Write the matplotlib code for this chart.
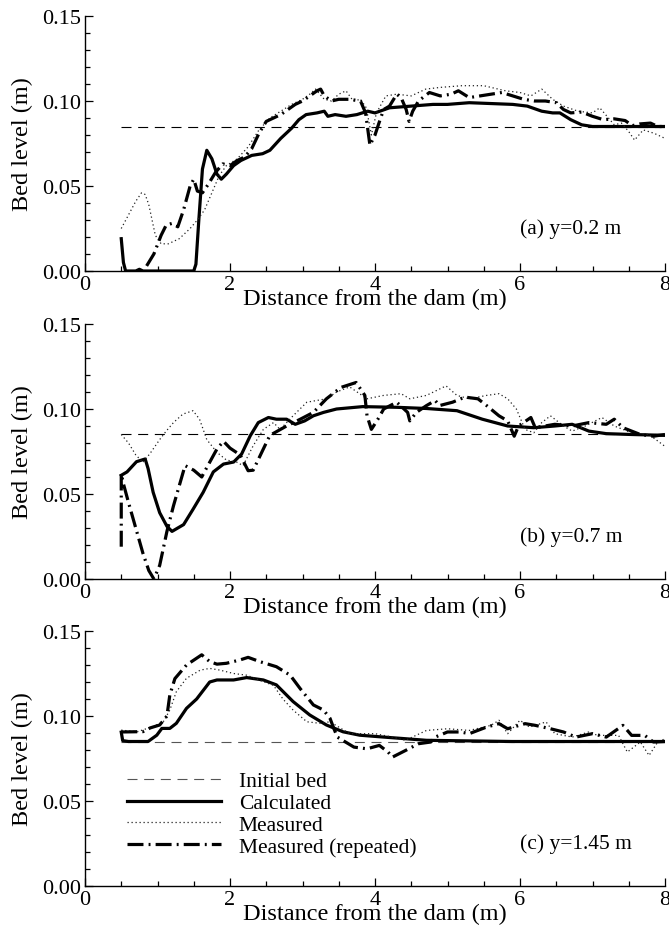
import matplotlib
matplotlib.use("Agg")
import matplotlib.pyplot as plt
from matplotlib.ticker import MultipleLocator, FormatStrFormatter

plt.rcParams['font.family'] = ['Liberation Serif', 'DejaVu Serif']
plt.rcParams['mathtext.fontset'] = 'stix'

# ---------------- data ----------------
initial_x = [0.5, 8.0]
initial_y = [0.085, 0.085]

# Panel (a) y = 0.2 m
calc_a_x = [0.5, 0.53, 0.56, 0.7, 0.75, 0.8, 1.0, 1.4, 1.5, 1.53, 1.57, 1.62, 1.68, 1.75, 1.82, 1.88,
            1.95, 2.05, 2.15, 2.3, 2.45, 2.55, 2.7, 2.85, 2.95, 3.05, 3.2, 3.3, 3.35, 3.45, 3.6, 3.75,
            3.9, 4.0, 4.2, 4.5, 4.8, 5.0, 5.3, 5.6, 5.9, 6.1, 6.3, 6.45, 6.55, 6.7, 6.85, 7.0, 7.3, 7.6, 8.0]
calc_a_y = [0.019, 0.005, 0.0, 0.0, 0.001, 0.0, 0.0, 0.0, 0.0, 0.004, 0.030, 0.060, 0.071, 0.066, 0.057, 0.054,
            0.057, 0.062, 0.065, 0.068, 0.069, 0.071, 0.078, 0.084, 0.089, 0.092, 0.093, 0.094, 0.091, 0.092, 0.091, 0.092,
            0.094, 0.093, 0.096, 0.097, 0.098, 0.098, 0.099, 0.0985, 0.098, 0.097, 0.094, 0.093, 0.093, 0.089, 0.086, 0.085, 0.085, 0.085, 0.085]
meas_a_x = [0.5, 0.6, 0.7, 0.78, 0.83, 0.88, 0.92, 0.97, 1.05, 1.15, 1.3, 1.45, 1.55, 1.65, 1.75, 1.85, 1.95,
            2.1, 2.25, 2.4, 2.55, 2.7, 2.85, 3.0, 3.1, 3.18, 3.3, 3.4, 3.5, 3.6, 3.7, 3.8, 3.88, 3.95, 4.02,
            4.15, 4.3, 4.5, 4.7, 4.9, 5.2, 5.5, 5.8, 6.0, 6.15, 6.3, 6.45, 6.6, 6.8, 7.0, 7.1, 7.2, 7.3, 7.4,
            7.5, 7.58, 7.7, 7.85, 8.0]
meas_a_y = [0.025, 0.033, 0.041, 0.046, 0.045, 0.039, 0.031, 0.021, 0.016, 0.016, 0.019, 0.025, 0.030, 0.036, 0.046, 0.056, 0.062,
            0.066, 0.073, 0.083, 0.090, 0.094, 0.098, 0.101, 0.104, 0.107, 0.101, 0.100, 0.104, 0.106, 0.100, 0.101, 0.096, 0.080, 0.093,
            0.103, 0.104, 0.103, 0.107, 0.108, 0.109, 0.109, 0.106, 0.105, 0.103, 0.107, 0.101, 0.097, 0.094, 0.093, 0.096, 0.091, 0.086, 0.087,
            0.082, 0.077, 0.083, 0.081, 0.078]
rep_a_x = [0.85, 0.95, 1.05, 1.12, 1.2, 1.28, 1.36, 1.45, 1.5, 1.55, 1.62, 1.7, 1.8, 1.9, 2.0, 2.1, 2.2, 2.3, 2.4, 2.5,
           2.6, 2.7, 2.8, 2.9, 3.0, 3.1, 3.2, 3.25, 3.3, 3.4, 3.5, 3.65, 3.8, 3.87, 3.93, 4.0, 4.07, 4.12, 4.2, 4.3,
           4.36, 4.43, 4.47, 4.52, 4.6, 4.75, 4.9, 5.05, 5.15, 5.3, 5.45, 5.6, 5.75, 5.9, 6.05, 6.2, 6.35, 6.5, 6.6,
           6.7, 6.85, 7.0, 7.15, 7.3, 7.45, 7.55, 7.65, 7.8, 7.9, 8.0]
rep_a_y = [0.003, 0.010, 0.021, 0.027, 0.028, 0.026, 0.036, 0.050, 0.054, 0.047, 0.046, 0.051, 0.058, 0.063, 0.062, 0.065, 0.067, 0.072, 0.081, 0.088,
           0.090, 0.092, 0.095, 0.098, 0.100, 0.103, 0.106, 0.107, 0.103, 0.100, 0.101, 0.101, 0.100, 0.093, 0.074, 0.080, 0.089, 0.095, 0.097, 0.104,
           0.102, 0.095, 0.088, 0.094, 0.100, 0.105, 0.103, 0.104, 0.106, 0.102, 0.103, 0.104, 0.105, 0.103, 0.101, 0.100, 0.100, 0.099, 0.095,
           0.093, 0.0935, 0.091, 0.089, 0.0895, 0.0885, 0.0855, 0.0865, 0.087, 0.085, 0.085]

# Panel (b) y = 0.7 m
calc_b_x = [0.5, 0.58, 0.71, 0.83, 0.87, 0.94, 1.03, 1.13, 1.2, 1.36, 1.49, 1.63, 1.77, 1.91, 2.05, 2.16, 2.28, 2.39,
            2.53, 2.64, 2.78, 2.9, 3.03, 3.15, 3.29, 3.47, 3.83, 4.3, 4.71, 5.13, 5.48, 5.83, 6.19, 6.48, 6.72, 6.95,
            7.19, 7.54, 8.0]
calc_b_y = [0.061, 0.063, 0.069, 0.0706, 0.065, 0.051, 0.039, 0.031, 0.028, 0.032, 0.041, 0.051, 0.063, 0.0676, 0.0688, 0.0735, 0.0843, 0.092,
            0.095, 0.094, 0.094, 0.091, 0.093, 0.096, 0.098, 0.100, 0.1014, 0.101, 0.1003, 0.099, 0.094, 0.090, 0.089, 0.090, 0.091, 0.087,
            0.0855, 0.085, 0.0845]
meas_b_x = [0.5, 0.6, 0.7, 0.8, 0.9, 1.03, 1.12, 1.22, 1.35, 1.49, 1.58, 1.68, 1.82, 1.95, 2.09, 2.18, 2.32, 2.46, 2.6,
            2.69, 2.87, 3.06, 3.33, 3.47, 3.65, 3.89, 4.12, 4.36, 4.48, 4.71, 4.98, 5.13, 5.3, 5.54, 5.71, 5.83,
            5.95, 6.07, 6.19, 6.3, 6.42, 6.6, 6.72, 6.9, 7.13, 7.3, 7.54, 7.78, 8.0]
meas_b_y = [0.085, 0.080, 0.073, 0.0686, 0.074, 0.082, 0.087, 0.092, 0.097, 0.099, 0.094, 0.082, 0.0745, 0.070, 0.0688, 0.0667, 0.0784, 0.088, 0.092,
            0.088, 0.096, 0.104, 0.106, 0.110, 0.113, 0.106, 0.108, 0.109, 0.106, 0.108, 0.1136, 0.108, 0.106, 0.108, 0.109, 0.106,
            0.100, 0.088, 0.086, 0.092, 0.096, 0.090, 0.087, 0.090, 0.095, 0.090, 0.086, 0.085, 0.078]
rep_b_x = [0.5, 0.5, 0.53, 0.6, 0.7, 0.8, 0.88, 0.95, 1.03, 1.13, 1.22, 1.38, 1.5, 1.61, 1.66, 1.82, 1.91, 2.0, 2.14,
           2.25, 2.32, 2.46, 2.55, 2.78, 2.97, 3.15, 3.33, 3.53, 3.74, 3.86, 3.89, 3.95, 4.04, 4.12, 4.3, 4.45, 4.48,
           4.57, 4.71, 4.83, 4.89, 5.07, 5.24, 5.42, 5.54, 5.71, 5.83, 5.92, 5.98, 6.15, 6.21, 6.48, 6.72, 6.95, 7.19,
           7.3, 7.42, 7.66, 7.84, 8.0]
rep_b_y = [0.019, 0.062, 0.056, 0.045, 0.030, 0.015, 0.005, 0.0, 0.008, 0.028, 0.043, 0.0667, 0.064, 0.060, 0.064, 0.0765, 0.081, 0.077, 0.073,
           0.0637, 0.064, 0.0765, 0.0845, 0.090, 0.094, 0.098, 0.106, 0.1127, 0.1156, 0.108, 0.096, 0.088, 0.094, 0.100, 0.104, 0.098, 0.093,
           0.098, 0.102, 0.105, 0.102, 0.104, 0.107, 0.106, 0.102, 0.096, 0.093, 0.084, 0.090, 0.095, 0.089, 0.091, 0.090, 0.092, 0.091,
           0.094, 0.089, 0.085, 0.084, 0.085]

# Panel (c) y = 1.45 m
calc_c_x = [0.5, 0.52, 0.6, 0.87, 0.99, 1.06, 1.17, 1.26, 1.40, 1.54, 1.72, 1.82, 2.05, 2.23, 2.46, 2.64, 2.87,
            3.10, 3.33, 3.56, 3.79, 4.12, 4.71, 5.89, 8.0]
calc_c_y = [0.0905, 0.0855, 0.085, 0.085, 0.0887, 0.0927, 0.0927, 0.0957, 0.1045, 0.110, 0.120, 0.1212, 0.1212, 0.1226, 0.1212, 0.1183, 0.1085,
            0.1006, 0.0947, 0.0907, 0.0887, 0.0876, 0.0857, 0.085, 0.085]
meas_c_x = [0.5, 0.72, 0.95, 1.08, 1.17, 1.26, 1.40, 1.59, 1.72, 1.86, 2.05, 2.23, 2.41, 2.6, 2.73, 2.87, 3.06, 3.24,
            3.38, 3.65, 4.0, 4.24, 4.42, 4.71, 5.0, 5.3, 5.6, 5.71, 5.83, 6.0, 6.13, 6.36, 6.48, 6.72, 6.95, 7.07,
            7.36, 7.48, 7.66, 7.78, 7.9, 8.0]
meas_c_y = [0.0917, 0.0907, 0.094, 0.0966, 0.1035, 0.1143, 0.1222, 0.127, 0.128, 0.127, 0.125, 0.124, 0.121, 0.118, 0.110, 0.1035, 0.0966, 0.0957,
            0.0966, 0.0896, 0.0896, 0.0876, 0.0857, 0.0915, 0.0925, 0.0915, 0.0945, 0.0975, 0.0896, 0.0975, 0.0935, 0.0965, 0.0896, 0.0876, 0.0906, 0.0886,
            0.0886, 0.0788, 0.0847, 0.0768, 0.0847, 0.0866]
rep_c_x = [0.5, 0.8, 0.9, 1.03, 1.13, 1.17, 1.24, 1.40, 1.61, 1.72, 1.82, 1.95, 2.14, 2.25, 2.41, 2.64, 2.83, 2.97,
           3.15, 3.29, 3.38, 3.42, 3.48, 3.71, 3.89, 4.06, 4.18, 4.24, 4.42, 4.6, 4.77, 4.83, 5.0, 5.18, 5.3, 5.54,
           5.71, 5.83, 6.07, 6.21, 6.42, 6.6, 6.77, 7.0, 7.19, 7.42, 7.54, 7.72, 7.84, 8.0]
rep_c_y = [0.0906, 0.0908, 0.093, 0.0947, 0.100, 0.1124, 0.122, 0.130, 0.136, 0.132, 0.1305, 0.131, 0.133, 0.1345, 0.132, 0.129, 0.124, 0.116,
           0.1065, 0.1035, 0.0986, 0.094, 0.0876, 0.0817, 0.0807, 0.0827, 0.0788, 0.0758, 0.0797, 0.0837, 0.0847, 0.0876, 0.0906, 0.0906, 0.0896, 0.0935,
           0.0955, 0.0925, 0.0955, 0.0945, 0.0925, 0.0906, 0.0876, 0.0896, 0.0876, 0.0945, 0.0886, 0.0886, 0.0847, 0.085]

panels = [
    dict(calc=(calc_a_x, calc_a_y), meas=(meas_a_x, meas_a_y), rep=(rep_a_x, rep_a_y), label="(a) y=0.2 m"),
    dict(calc=(calc_b_x, calc_b_y), meas=(meas_b_x, meas_b_y), rep=(rep_b_x, rep_b_y), label="(b) y=0.7 m"),
    dict(calc=(calc_c_x, calc_c_y), meas=(meas_c_x, meas_c_y), rep=(rep_c_x, rep_c_y), label="(c) y=1.45 m"),
]
legend_labels = ["Initial bed", "Calculated", "Measured", "Measured (repeated)"]

# ---------------- figure ----------------
W, H = 669, 929
fig = plt.figure(figsize=(W / 100, H / 100), dpi=100)
left = 85 / W
width = 580 / W
height = 255 / H
bottoms = [1 - 272 / H, 1 - 580 / H, 1 - 887 / H]

TICK_FS = 16
TEXT_FS = 15.5
LABEL_FS = 17.5

for i, (p, b) in enumerate(zip(panels, bottoms)):
    ax = fig.add_axes([left, b, width, height])
    init_color = '#555555' if i == 2 else 'black'
    l_init, = ax.plot(initial_x, initial_y, color=init_color, lw=0.8, dashes=(9, 6))
    l_calc, = ax.plot(*p['calc'], color='black', lw=2.3, solid_joinstyle='round')
    l_meas, = ax.plot(*p['meas'], color='#222222', lw=0.9, dashes=(1, 2.2))
    l_rep, = ax.plot(*p['rep'], color='black', lw=2.3, dashes=(5, 1.6, 0.6, 1.6))

    ax.set_xlim(0, 8)
    ax.set_ylim(0, 0.15)
    ax.xaxis.set_major_locator(MultipleLocator(2))
    ax.xaxis.set_minor_locator(MultipleLocator(0.5))
    ax.yaxis.set_major_locator(MultipleLocator(0.05))
    ax.yaxis.set_minor_locator(MultipleLocator(0.01))
    ax.yaxis.set_major_formatter(FormatStrFormatter('%.2f'))
    ax.xaxis.set_major_formatter(FormatStrFormatter('%d'))
    ax.tick_params(which='both', direction='in', labelsize=TICK_FS, width=0.9)
    ax.tick_params(which='major', length=6, pad=3)
    ax.tick_params(which='minor', length=3.5)
    for s in ['top', 'right']:
        ax.spines[s].set_visible(False)
    for s in ['left', 'bottom']:
        ax.spines[s].set_linewidth(1.0)

    ax.set_xlabel("Distance from the dam (m)", fontsize=LABEL_FS)
    ax.xaxis.set_label_coords(0.5, -0.068)
    ax.set_ylabel("Bed level (m)", fontsize=LABEL_FS)
    ax.yaxis.set_label_coords(-0.09, 0.5)

    ax.text(6.0, 0.025, p['label'], fontsize=TEXT_FS, ha='left', va='center')

    if i == 2:
        ax.legend([l_init, l_calc, l_meas, l_rep], legend_labels, loc='upper left',
                  bbox_to_anchor=(0.072, 0.45), frameon=False, fontsize=TEXT_FS,
                  handlelength=4.4, handletextpad=0.8, labelspacing=0.08,
                  borderpad=0, borderaxespad=0)

fig.savefig("out.png", dpi=100)
